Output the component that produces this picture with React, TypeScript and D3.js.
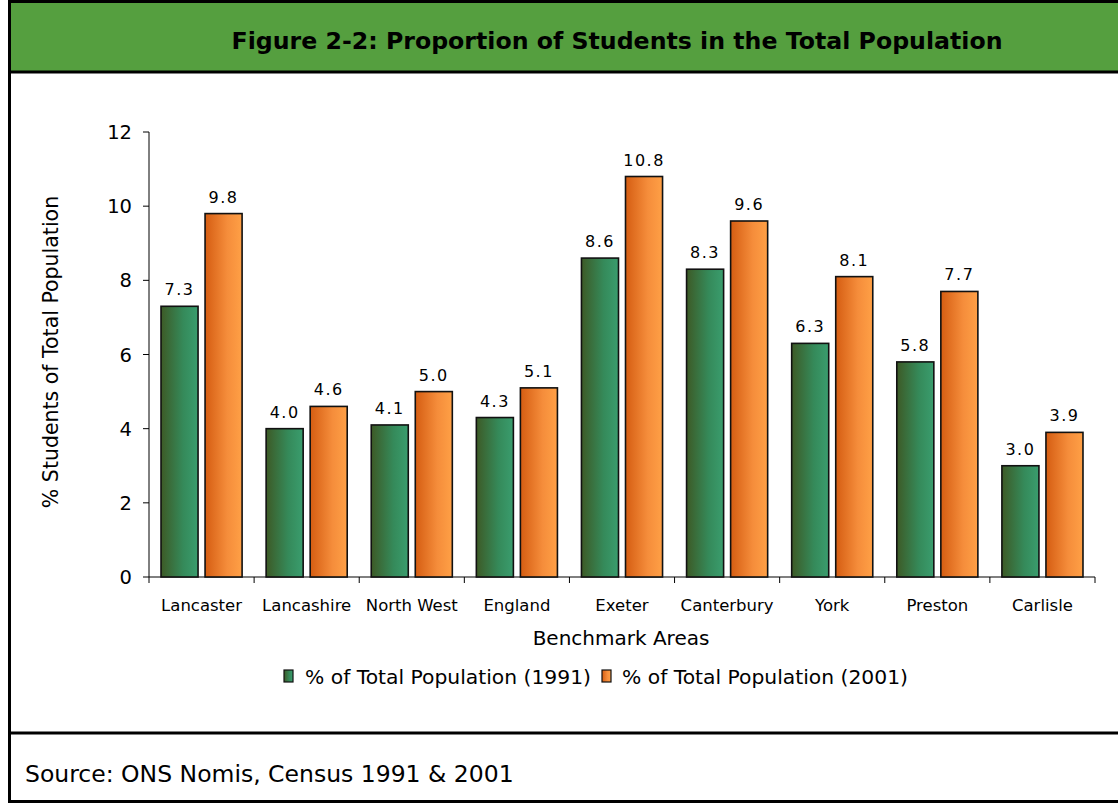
import React from "react";
import * as d3 from "d3";

const categories = ["Lancaster", "Lancashire", "North West", "England", "Exeter", "Canterbury", "York", "Preston", "Carlisle"];
const values1991 = [7.3, 4.0, 4.1, 4.3, 8.6, 8.3, 6.3, 5.8, 3.0];
const values2001 = [9.8, 4.6, 5.0, 5.1, 10.8, 9.6, 8.1, 7.7, 3.9];
const seriesNames = ["% of Total Population (1991)", "% of Total Population (2001)"];
const yTicks = [0, 2, 4, 6, 8, 10, 12];

const FONT = "'DejaVu Sans', Verdana, sans-serif";

export default function App() {
  const W = 1118, H = 804;
  const x0 = d3.scaleBand<string>().domain(categories).range([149, 1095]).paddingInner(0).paddingOuter(0);
  const x1 = d3.scaleBand<string>().domain(["a", "b"]).range([0, x0.bandwidth()]).paddingInner(7 / 44).paddingOuter(12 / 44);
  const y = d3.scaleLinear().domain([0, 12]).range([577, 132]);
  const series = [values1991, values2001];
  const keys = ["a", "b"];
  const fills = ["url(#gGreen)", "url(#gOrange)"];
  const legendPos = [
    { sx: 284, tx: 305 },
    { sx: 602, tx: 622 },
  ];

  return (
    <svg width={W} height={H} style={{ position: "absolute", left: 0, top: 0, background: "#fff" }} fontFamily={FONT}>
      <defs>
        <linearGradient id="gGreen" x1="0" x2="1" y1="0" y2="0">
          <stop offset="0" stopColor="#3d5a26" />
          <stop offset="0.6" stopColor="#358a5a" />
          <stop offset="1" stopColor="#3a9d6e" />
        </linearGradient>
        <linearGradient id="gOrange" x1="0" x2="1" y1="0" y2="0">
          <stop offset="0" stopColor="#d55d12" />
          <stop offset="0.6" stopColor="#f58d3b" />
          <stop offset="1" stopColor="#ffa046" />
        </linearGradient>
      </defs>
      <rect x={0} y={0} width={W} height={H} fill="#fff" />
      {/* title bar */}
      <rect x={9} y={1} width={W - 9} height={71} fill="#559f3f" />
      <text x={617} y={49} textAnchor="middle" fontSize={23} fontWeight="bold" fill="#000" textLength={771} lengthAdjust="spacingAndGlyphs">
        Figure 2-2: Proportion of Students in the Total Population
      </text>
      {/* borders */}
      <rect x={9.5} y={1.5} width={W - 8} height={800} fill="none" stroke="#000" strokeWidth={3} />
      <line x1={9} x2={W} y1={72} y2={72} stroke="#000" strokeWidth={3} />
      <line x1={9} x2={W} y1={733} y2={733} stroke="#000" strokeWidth={3} />

      {/* y axis */}
      <line x1={149} x2={149} y1={y(12)} y2={y(0)} stroke="#000" strokeWidth={1} />
      {yTicks.map((t) => (
        <g key={t}>
          <line x1={143} x2={149} y1={y(t)} y2={y(t)} stroke="#000" />
          <text x={132} y={y(t)} dy="0.36em" textAnchor="end" fontSize={19.5}>{t}</text>
        </g>
      ))}
      {/* x axis */}
      <line x1={149} x2={1095} y1={y(0)} y2={y(0)} stroke="#000" />
      {categories.map((c, i) => (
        <line key={"t" + i} x1={x0(c)!} x2={x0(c)!} y1={y(0)} y2={y(0) + 6} stroke="#000" />
      ))}
      <line x1={1095} x2={1095} y1={y(0)} y2={y(0) + 6} stroke="#000" />

      {/* bars */}
      {categories.map((c, i) => (
        <g key={c} transform={`translate(${x0(c)},0)`}>
          {series.map((vals, s) => {
            const v = vals[i];
            const bx = x1(keys[s])!;
            const bw = x1.bandwidth();
            return (
              <g key={s}>
                <rect x={bx} y={y(v)} width={bw} height={y(0) - y(v)} fill={fills[s]} stroke="#111" strokeWidth={1.6} />
                <text x={bx + bw / 2} y={y(v) - 11} textAnchor="middle" fontSize={16} letterSpacing={1.5}>{v.toFixed(1)}</text>
              </g>
            );
          })}
          <text x={x0.bandwidth() / 2} y={611} textAnchor="middle" fontSize={16.5}>{c}</text>
        </g>
      ))}

      {/* axis titles */}
      <text transform={`translate(58,352) rotate(-90)`} textAnchor="middle" fontSize={20.5}>% Students of Total Population</text>
      <text x={621} y={645} textAnchor="middle" fontSize={20}>Benchmark Areas</text>

      {/* legend */}
      {seriesNames.map((n, s) => (
        <g key={n}>
          <rect x={legendPos[s].sx} y={670} width={9} height={12} fill={fills[s]} stroke="#111" strokeWidth={1.2} />
          <text x={legendPos[s].tx} y={684} fontSize={20.3}>{n}</text>
        </g>
      ))}

      {/* source */}
      <text x={25} y={782} fontSize={23.5}>Source: ONS Nomis, Census 1991 &amp; 2001</text>
    </svg>
  );
}
